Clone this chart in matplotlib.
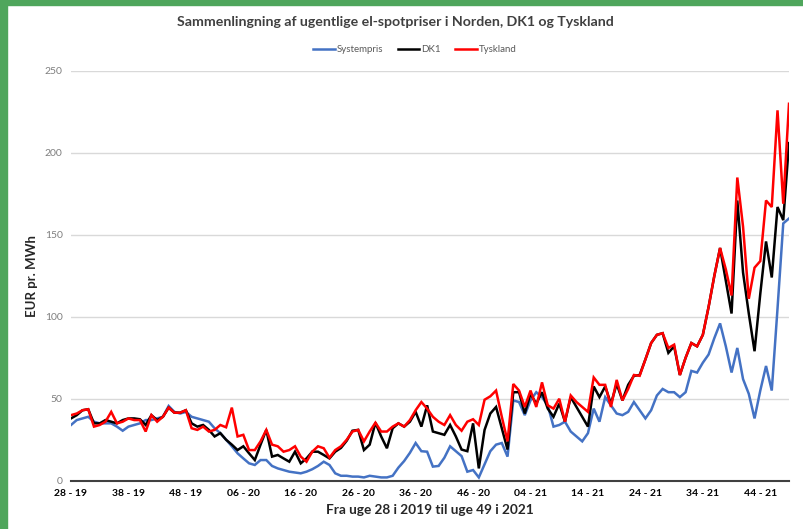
import numpy as np
import matplotlib
matplotlib.use("Agg")
from matplotlib import pyplot as plt
from matplotlib.patches import Rectangle

plt.rcParams['font.family'] = ['Lato', 'DejaVu Sans']

tick_labels = ['28 - 19', '38 - 19', '48 - 19', '06 - 20', '16 - 20', '26 - 20', '36 - 20',
               '46 - 20', '04 - 21', '14 - 21', '24 - 21', '34 - 21', '44 - 21']

# Weekly prices EUR/MWh, week 28 2019 .. week 49 2021 (126 weeks)
systempris = [34, 37, 38, 39, 36, 35, 35, 35, 33, 30.5,
              33, 34, 35, 37, 37, 38, 39, 45.6, 42, 41,
              42, 39, 38, 37, 36, 32, 29, 25, 21, 16.7,
              13.6, 10.6, 9.6, 12.6, 12.6, 9, 7.5, 6.5, 5.5, 5,
              4.5, 5.5, 7, 9, 11.6, 9.6, 4.5, 3, 3, 2.5,
              2.5, 2, 3, 2.5, 2, 2, 3, 8, 12, 17,
              23, 18, 17.7, 8.6, 9, 14, 21, 18, 15, 5.5,
              6.5, 2, 10, 18, 22, 23, 14.7, 49, 48, 40,
              49, 54, 51, 46, 33, 34, 36, 30, 27, 24,
              29, 44, 36, 51, 46, 41, 40, 42, 48, 43,
              38, 43, 52, 56, 54, 54, 51, 54, 67, 66,
              72, 77, 87, 96, 82, 66, 81, 62, 53, 38,
              55, 70, 55, 105, 157, 160]
dk1 = [38, 40, 43, 43.6, 35, 35, 37, 36, 35, 37,
       38, 38, 37.5, 34, 40, 37, 39, 44.6, 41.5, 41.5,
       43, 35, 33, 34, 31, 27, 29, 25, 22, 18.7,
       21, 16.7, 12.6, 22, 31, 14.7, 15.7, 13.6, 11.6, 17.7,
       10.6, 13.6, 17.7, 17.7, 15.7, 13.6, 17.7, 20, 24.4, 30.5,
       31, 18.7, 22, 35.4, 27, 19.8, 32, 35, 33, 36,
       42, 33, 46, 30, 29, 28, 34, 27, 19, 18,
       35, 7.5, 31, 41, 45, 32, 19, 54, 54, 41,
       53, 47, 54, 44, 39, 47, 36, 51, 45, 39,
       33, 57.5, 51, 57.5, 47, 59, 49, 58.5, 64, 64.5,
       74, 84, 89, 90, 78, 82, 64.5, 75, 84, 82,
       89, 106, 125, 142, 122, 102, 171, 127, 102, 79,
       114, 146, 124, 167, 159, 206]
tyskland = [40, 41, 43, 43.6, 33, 34, 36, 42, 35, 36,
            38, 37, 37, 30, 40, 36, 39, 44.6, 41.5, 41.5,
            43, 32, 31, 33, 30, 31, 34, 32.6, 44.6, 27,
            28, 18.7, 18.7, 24, 31, 22, 21, 17.7, 18.7, 21,
            14.7, 11.6, 17.7, 21, 19.8, 14, 18.7, 21, 25, 30,
            31, 24, 30, 35.4, 30, 30, 33, 35, 33, 37,
            43, 48, 44, 39, 36, 34, 40, 34, 30.5, 36,
            37.5, 34, 49.4, 51.5, 55, 39, 24, 59, 55, 45,
            55, 45, 60, 46, 44, 50, 36, 52, 48, 45,
            42, 63, 58.5, 58.5, 45, 61.5, 49, 56, 64.5, 64,
            74, 84, 89, 90, 81, 83, 64.5, 75, 84, 82,
            89, 106, 125, 142, 129, 113, 185, 155, 111, 130,
            134, 171, 167, 226, 169, 230]

x = np.arange(len(systempris))

fig = plt.figure(figsize=(8.04, 5.29), dpi=100)
# green frame of the screenshot (top and left)
fig.patches.append(Rectangle((0, 1 - 5/529), 1, 5/529, transform=fig.transFigure,
                             color='#4fa65c', zorder=0))
fig.patches.append(Rectangle((0, 0), 7/804, 1, transform=fig.transFigure,
                             color='#4fa65c', zorder=0))

ax = fig.add_axes([71/804, 1 - 480.7/529, (789 - 71)/804, (480.7 - 71)/529])

ax.plot(x, systempris, color='#4472C4', lw=1.8, label='Systempris', solid_joinstyle='miter')
ax.plot(x, dk1, color='black', lw=1.8, label='DK1', solid_joinstyle='miter')
ax.plot(x, tyskland, color='#FF0000', lw=1.8, label='Tyskland', solid_joinstyle='miter')

ax.set_xlim(0, len(x) - 1)
ax.set_ylim(0, 250)
ax.set_yticks(range(0, 251, 50))
ax.set_xticks(x[::10])
ax.set_xticklabels(tick_labels, fontsize=7.5, fontweight='bold')
ax.tick_params(axis='both', length=0)
ax.tick_params(axis='y', labelsize=7.5, labelcolor='#7f7f7f', pad=6)
ax.tick_params(axis='x', pad=6)
ax.grid(axis='y', color='#d9d9d9', lw=1)
ax.set_axisbelow(True)
for s in ['top', 'right', 'left']:
    ax.spines[s].set_visible(False)
ax.spines['bottom'].set_color('#404040')
ax.spines['bottom'].set_linewidth(1.5)

ax.set_ylabel('EUR pr. MWh', fontsize=9.5, fontweight='bold', color='#262626', labelpad=5)
ax.set_xlabel('Fra uge 28 i 2019 til uge 49 i 2021', fontsize=9.8, fontweight='bold',
              color='#262626', labelpad=4)

fig.text(0.492, 0.958, 'Sammenlingning af ugentlige el-spotpriser i Norden, DK1 og Tyskland',
         ha='center', va='center', fontsize=10.2, fontweight='bold', color='#404040')

leg = fig.legend(loc='center', bbox_to_anchor=(415/804, 1 - 50/529), ncol=3, frameon=False,
                 fontsize=7, handlelength=2.2, columnspacing=1.5, handletextpad=0.2)
for t in leg.get_texts():
    t.set_color('#595959')

fig.savefig('out.png', dpi=100)
